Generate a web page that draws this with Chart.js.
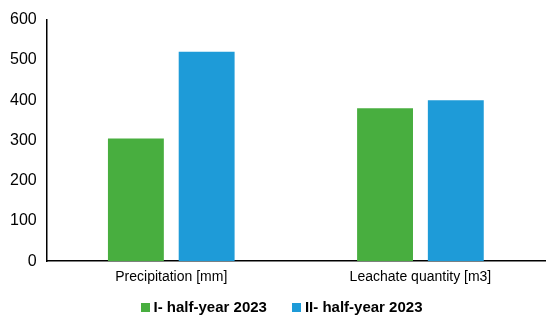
<!DOCTYPE html>
<html>
<head>
<meta charset="utf-8">
<script src="https://cdn.jsdelivr.net/npm/chart.js@4/dist/chart.umd.min.js"></script>
<style>
  html, body { margin: 0; padding: 0; background: #fff; }
  #wrap { position: relative; width: 550px; height: 320px; }
  #legend {
    position: absolute; left: 13px; right: 0; top: 299px;
    display: flex; justify-content: center; gap: 25px;
    font: bold 15px 'Liberation Sans', Arial, sans-serif; color: #000; line-height: 16px;
  }
  #legend span.item { display: flex; align-items: center; }
  #legend span.box { display: inline-block; width: 9px; height: 9px; margin-right: 4px; }
</style>
</head>
<body>
<div id="wrap"><canvas id="myChart"></canvas><div id="legend"></div></div>
<script>
const categories = ['Precipitation [mm]', 'Leachate quantity [m3]'];
const firstHalf = [305, 380];
const secondHalf = [520, 400];
const seriesNames = ['I- half-year 2023', 'II- half-year 2023'];
const colors = ['#48AE3F', '#1E9BD8'];

const ctx = document.getElementById('myChart').getContext('2d');
const chart = new Chart(ctx, {
  type: 'bar',
  data: {
    labels: categories,
    datasets: [
      { label: seriesNames[0], data: firstHalf, backgroundColor: colors[0] },
      { label: seriesNames[1], data: secondHalf, backgroundColor: colors[1] }
    ]
  },
  options: {
    responsive: true,
    maintainAspectRatio: false,
    animation: false,
    layout: { padding: { left: 0, right: 5, top: 0, bottom: 26 } },
    datasets: { bar: { categoryPercentage: 0.568, barPercentage: 0.79 } },
    plugins: {
      tooltip: { enabled: false },
      legend: { display: false }
    },
    scales: {
      x: {
        grid: { display: false, drawTicks: false },
        border: { color: '#000', width: 1.5 },
        ticks: { color: '#000', padding: 8, font: { family: 'Liberation Sans, Arial', size: 14 } }
      },
      y: {
        min: 0, max: 600,
        grid: { display: false, drawTicks: false },
        border: { color: '#000', width: 1.5 },
        ticks: { stepSize: 100, color: '#000', padding: 10, font: { family: 'Liberation Sans, Arial', size: 16 } }
      }
    }
  }
});

// html legend built from the datasets
const legend = document.getElementById('legend');
chart.data.datasets.forEach(ds => {
  const item = document.createElement('span');
  item.className = 'item';
  const box = document.createElement('span');
  box.className = 'box';
  box.style.background = ds.backgroundColor;
  item.appendChild(box);
  item.appendChild(document.createTextNode(ds.label));
  legend.appendChild(item);
});
</script>
</body>
</html>
